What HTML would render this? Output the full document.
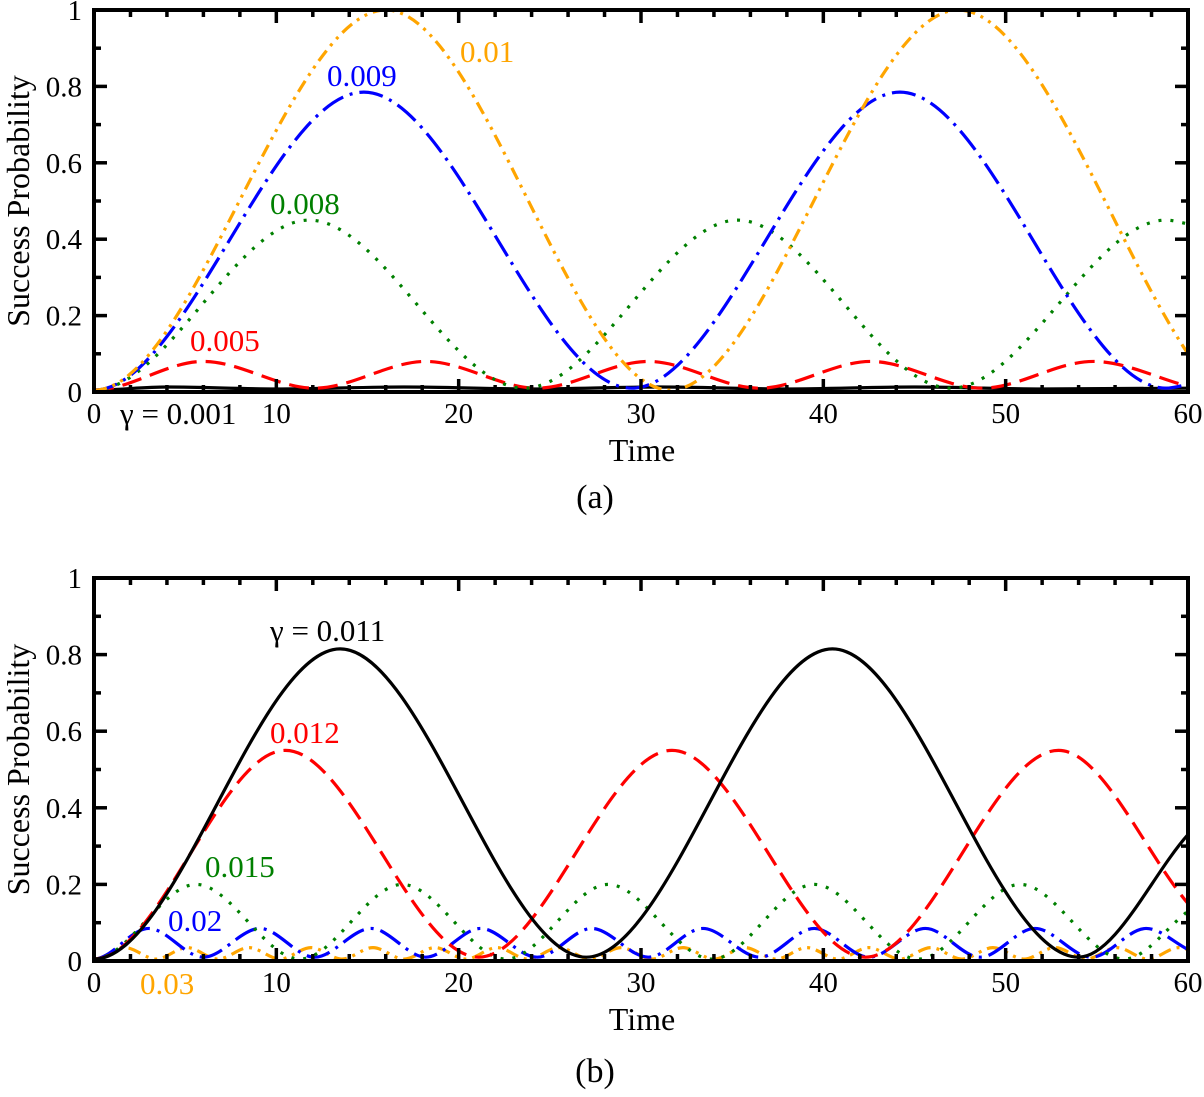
<!DOCTYPE html>
<html><head><meta charset="utf-8"><style>
html,body{margin:0;padding:0;background:#fff;}
text{font-family:"Liberation Serif","Times New Roman",serif !important;}
</style></head><body>
<svg id="chart" width="1204" height="1092" viewBox="0 0 1204 1092" xmlns="http://www.w3.org/2000/svg" font-family="Liberation Serif, serif"></svg>
<script>
// ---- data (extrema-based samples) ----
const xTicks = [0,10,20,30,40,50,60];
const yTicks = [0,0.2,0.4,0.6,0.8,1];
const yTickLabels = ["0","0.2","0.4","0.6","0.8","1"];

// Panel (a)
const aOrangeT = [0,16,31.6,47.4,60];
const aOrangeP = [0.005,1,0.005,1,0.1];
const aBlueT = [0,14.8,29.5,44.2,58.8,60];
const aBlueP = [0.005,0.785,0.01,0.785,0.01,0.02];
const aGreenT = [0,11.8,23.6,35.3,47,58.8,60];
const aGreenP = [0.005,0.45,0.01,0.45,0.01,0.45,0.44];
const aRedT = [0,6,12.1,18.2,24.3,30.4,36.5,42.6,48.7,54.8,60];
const aRedP = [0.005,0.08,0.01,0.08,0.01,0.08,0.01,0.08,0.01,0.08,0.015];
const aBlackT = [0,4,10,17,24,31,38,45,52,60];
const aBlackP = [0.005,0.013,0.008,0.013,0.008,0.013,0.008,0.013,0.008,0.01];

// Panel (b)
const bBlackT = [0,13.5,27,40.5,54,60];
const bBlackP = [0.005,0.815,0.01,0.815,0.01,0.33];
const bRedT = [0,10.5,21.1,31.7,42.3,52.9,60];
const bRedP = [0.005,0.55,0.01,0.55,0.01,0.55,0.15];
const bGreenT = [0,5.6,11.3,16.9,22.6,28.2,33.9,39.5,45.2,50.8,56.5,60];
const bGreenP = [0.005,0.2,0.005,0.2,0.005,0.2,0.005,0.2,0.005,0.2,0.005,0.13];
const bBlueT = [0,3,6,9.1,12.1,15.2,18.2,21.2,24.3,27.3,30.4,33.4,36.5,39.5,42.5,45.6,48.6,51.6,54.7,57.7,60];
const bBlueP = [0.005,0.085,0.01,0.085,0.01,0.085,0.01,0.085,0.01,0.085,0.01,0.085,0.01,0.085,0.01,0.085,0.01,0.085,0.01,0.085,0.03];
const bOrangeT = [0,1.7,3.4,5.1,6.8,8.5,10.2,11.9,13.6,15.3,17,18.7,20.4,22.1,23.8,25.5,27.2,28.9,30.6,32.3,34,35.7,37.4,39.1,40.8,42.5,44.2,45.9,47.6,49.3,51,52.7,54.4,56.1,57.8,59.5,60];
const bOrangeP = [0.005,0.035,0.005,0.035,0.005,0.035,0.005,0.035,0.005,0.035,0.005,0.035,0.005,0.035,0.005,0.035,0.005,0.035,0.005,0.035,0.005,0.035,0.005,0.035,0.005,0.035,0.005,0.035,0.005,0.035,0.005,0.035,0.005,0.035,0.005,0.035,0.03];

const NS = "http://www.w3.org/2000/svg";
const svg = document.getElementById('chart');
const FONT = '"Liberation Serif", "Times New Roman", serif';
function mk(tag, attrs, parent){
  const e = document.createElementNS(NS, tag);
  for (const k in attrs) e.setAttribute(k, attrs[k]);
  if (tag === 'text') e.style.fontFamily = FONT;
  (parent||svg).appendChild(e);
  return e;
}

const X0 = 94, X1 = 1188;
function panel(top, bottom, name){
  const g = mk('g', {});
  
  
  const sx = t => X0 + (X1 - X0) * t / 60;
  const sy = p => bottom - (bottom - top) * p;
  return {g, sx, sy, top, bottom};
}

function monotonePath(xs, ys){
  const n = xs.length;
  const d = [], m = new Array(n);
  for (let i=0;i<n-1;i++) d.push((ys[i+1]-ys[i])/(xs[i+1]-xs[i]));
  m[0] = d[0]; m[n-1] = d[n-2];
  for (let i=1;i<n-1;i++){
    if (d[i-1]*d[i] <= 0) m[i] = 0;
    else m[i] = 3*(d[i-1]+d[i]) / ((d[i]+2*d[i-1])/d[i] + (2*d[i]+d[i-1])/d[i-1]);
  }
  let s = `M${xs[0].toFixed(2)},${ys[0].toFixed(2)}`;
  for (let i=0;i<n-1;i++){
    const h = xs[i+1]-xs[i];
    const m0 = (i===0 ? 0 : m[i]), m1 = m[i+1];
    s += ` C${(xs[i]+h/3).toFixed(2)},${(ys[i]+m0*h/3).toFixed(2)} ${(xs[i+1]-h/3).toFixed(2)},${(ys[i+1]-m1*h/3).toFixed(2)} ${xs[i+1].toFixed(2)},${ys[i+1].toFixed(2)}`;
  }
  return s;
}

function series(P, T, V, color, dash, name){
  const xs = T.map(P.sx), ys = V.map(P.sy);
  const path = mk('path', {d: monotonePath(xs, ys), fill:'none', stroke:color, 'stroke-width':3.2, 'stroke-dasharray':dash, 'stroke-linecap':'butt'}, P.g);
  
  
}

function axes(P, label, labelY){
  const g = P.g;
  for (let t=0;t<=60;t+=2){
    const x = P.sx(t), major = t%10===0, L = major?13:7;
    mk('line',{x1:x,x2:x,y1:P.bottom,y2:P.bottom-L,stroke:'#000','stroke-width':3.5},g);
    mk('line',{x1:x,x2:x,y1:P.top,y2:P.top+L,stroke:'#000','stroke-width':3.5},g);
  }
  for (let k=0;k<=10;k++){
    const y = P.sy(k/10), major = k%2===0, L = major?13:7;
    mk('line',{x1:X0,x2:X0+L,y1:y,y2:y,stroke:'#000','stroke-width':3.5},g);
    mk('line',{x1:X1,x2:X1-L,y1:y,y2:y,stroke:'#000','stroke-width':3.5},g);
  }
  const fr = mk('rect',{x:X0,y:P.top,width:X1-X0,height:P.bottom-P.top,fill:'none',stroke:'#000','stroke-width':4},g);
  
  
  xTicks.forEach(t=>{
    const tx = mk('text',{x:P.sx(t),y:P.bottom+31,'font-size':29,'text-anchor':'middle'},g);
    tx.textContent = t;
    
    
  });
  yTicks.forEach((v,i)=>{
    const tx = mk('text',{x:X0-12,y:P.sy(v)+10,'font-size':29,'text-anchor':'end'},g);
    tx.textContent = yTickLabels[i];
    
    
  });
  const xt = mk('text',{x:642,y:P.bottom+69,'font-size':32,'text-anchor':'middle'},g);
  xt.textContent = 'Time';
  
  
  const cy = (P.top+P.bottom)/2;
  const yt = mk('text',{x:0,y:0,'font-size':32,'text-anchor':'middle',transform:`translate(29,${cy}) rotate(-90)`},g);
  yt.textContent = 'Success Probability';
  
  
  const pl = mk('text',{x:595,y:labelY,'font-size':34,'text-anchor':'middle'},g);
  pl.textContent = label;
  
  
}

function lbl(P, x, y, txt, color, name){
  const t = mk('text',{x, y, 'font-size':31, fill:color},P.g);
  t.textContent = txt;
  
  
}

const ORANGE='#ffa500', BLUE='#0000ff', GREEN='#008000', RED='#ff0000', BLACK='#000000';
const DDOT='13 6 3 6 3 6', DDASH='24 7 3 7', DOT='3 9', DASH='20 9';

// Panel a
const A = panel(10, 392, 'panel-a');
series(A, aBlackT, aBlackP, BLACK, 'none', 'series-a-0.001');
series(A, aRedT, aRedP, RED, DASH, 'series-a-0.005');
series(A, aGreenT, aGreenP, GREEN, DOT, 'series-a-0.008');
series(A, aBlueT, aBlueP, BLUE, DDASH, 'series-a-0.009');
series(A, aOrangeT, aOrangeP, ORANGE, DDOT, 'series-a-0.01');
axes(A, '(a)', 508);
lbl(A, 460, 62, '0.01', ORANGE, 'label-0.01');
lbl(A, 327, 86, '0.009', BLUE, 'label-0.009');
lbl(A, 270, 214, '0.008', GREEN, 'label-0.008');
lbl(A, 190, 351, '0.005', RED, 'label-0.005');
lbl(A, 120, 424, 'γ = 0.001', BLACK, 'label-gamma-0.001');

// Panel b
const B = panel(578, 961, 'panel-b');
series(B, bOrangeT, bOrangeP, ORANGE, DDOT, 'series-b-0.03');
series(B, bBlueT, bBlueP, BLUE, DDASH, 'series-b-0.02');
series(B, bGreenT, bGreenP, GREEN, DOT, 'series-b-0.015');
series(B, bRedT, bRedP, RED, DASH, 'series-b-0.012');
series(B, bBlackT, bBlackP, BLACK, 'none', 'series-b-0.011');
axes(B, '(b)', 1082);
lbl(B, 270, 641, 'γ = 0.011', BLACK, 'label-gamma-0.011');
lbl(B, 270, 743, '0.012', RED, 'label-0.012');
lbl(B, 205, 877, '0.015', GREEN, 'label-0.015');
lbl(B, 168, 931, '0.02', BLUE, 'label-0.02');
lbl(B, 140, 994, '0.03', ORANGE, 'label-0.03');
</script>
</body></html>
